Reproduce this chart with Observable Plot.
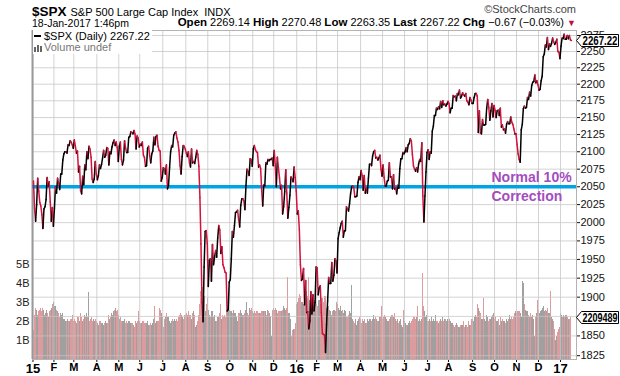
<!DOCTYPE html>
<html><head><meta charset="utf-8">
<script src="https://cdn.jsdelivr.net/npm/d3@7"></script>
<script src="https://cdn.jsdelivr.net/npm/@observablehq/plot@0.6"></script>
<style>
body{margin:0;background:#fff;font-family:"Liberation Sans",Arial,sans-serif;}
#wrap{position:relative;width:620px;height:376px;overflow:hidden;background:#fff;}
.abs{position:absolute;white-space:nowrap;}
#volChart,#priceChart{position:absolute;left:0;top:30px;}
#legend{left:33px;top:30px;background:#fff;font-size:11px;line-height:11px;padding:1px 2px 1px 1px;color:#000;}
.lbl{font-weight:bold;font-size:11.5px;}
</style></head><body><div id="wrap">
<div class="abs" style="left:32px;top:2px;" id="title"></div>
<div class="abs" style="right:44px;top:3px;font-size:11px;color:#444;">©StockCharts.com</div>
<div class="abs" style="left:32px;top:17px;font-size:10.5px;" id="stamp"></div>
<div class="abs" style="right:44px;top:16px;font-size:11px;" id="quote"></div>
<div id="volChart"></div>
<div id="priceChart"></div>
<div class="abs" id="legend"></div>
</div>
<script>
// ---------- data ----------
const symbol = "$SPX";
const indexName = "S&P 500 Large Cap Index";
const exchange = "INDX";
const stamp = "18-Jan-2017 1:46pm";
const quoteOpen = 2269.14, quoteHigh = 2270.48, quoteLow = 2263.35, quoteLast = 2267.22;
const quoteChg = -0.67, quoteChgPct = -0.03;
const lastVolume = 2209489; // thousands
const prevClose2014 = 2058.9;
const correctionLevel = 2050;
const correctionText = ["Normal 10%", "Correction"];

const daysPerMonth = [20,19,22,21,20,22,22,21,21,22,20,22, 19,20,22,21,21,22,20,23,21,21,21,21, 11];
const monthLabels = ["15","F","M","A","M","J","J","A","S","O","N","D","16","F","M","A","M","J","J","A","S","O","N","D","17"];
const priceTicks = [1825,1850,1875,1900,1925,1950,1975,2000,2025,2050,2075,2100,2125,2150,2175,2200,2225,2250,2275];
const volumeTicks = [1,2,3,4,5];

const close2015 = [
2058,2020,2002,2025,2062,2044,2028,2023,2011,1992,2019,2022,2032,2063,2051,2057,2029,2002,2021,1995,
2020,2050,2041,2062,2055,2046,2068,2068,2088,2097,2100,2100,2098,2110,2109,2116,2114,2110,2105,
2117,2108,2098,2101,2071,2079,2044,2040,2065,2053,2081,2074,2100,2090,2108,2104,2092,2061,2056,2061,2086,2068,
2060,2066,2081,2076,2082,2091,2102,2092,2095,2106,2105,2081,2100,2097,2107,2113,2117,2109,2114,2106,2086,
2108,2114,2089,2081,2088,2116,2105,2099,2099,2121,2122,2129,2128,2126,2131,2126,2104,2123,2120,2107,
2111,2109,2114,2095,2092,2079,2080,2105,2108,2094,2084,2097,2101,2121,2110,2122,2124,2108,2102,2101,2058,2063,
2077,2076,2068,2081,2047,2052,2077,2100,2109,2107,2124,2127,2129,2120,2114,2102,2080,2068,2093,2109,2108,2104,
2098,2093,2100,2084,2078,2104,2084,2086,2083,2092,2102,2096,2079,2035,1971,1893,1868,1940,1988,1989,1972,
1914,1949,1951,1921,1970,1943,1953,1962,1953,1979,1996,1990,1958,1967,1943,1939,1933,1932,1882,1884,1920,
1923,1951,1988,1980,1996,2014,2015,2017,2004,1994,2024,2033,2033,2030,2018,2052,2075,2072,2066,2090,2089,2079,
2104,2109,2103,2100,2099,2078,2081,2076,2045,2023,2053,2051,2084,2082,2089,2087,2089,2089,2091,2080,
2102,2080,2050,2092,2077,2063,2047,2052,2012,2022,2043,2074,2041,2006,2021,2038,2064,2061,2057,2078,2063,2044];
const close2016 = [
2012,2016,1990,1943,1922,1924,1938,1890,1922,1880,1881,1859,1869,1907,1878,1903,1882,1893,1940,
1939,1903,1912,1915,1880,1853,1852,1851,1829,1865,1895,1926,1918,1918,1946,1921,1929,1951,1948,1932,
1978,1986,1993,1999,2002,1980,1989,1989,2022,2019,2016,2027,2041,2050,2051,2049,2036,2036,2037,2056,2064,2060,
2073,2066,2045,2066,2041,2048,2041,2062,2082,2082,2080,2094,2100,2102,2091,2092,2088,2091,2095,2075,2065,
2081,2063,2051,2051,2058,2059,2084,2064,2064,2047,2067,2047,2048,2040,2052,2048,2076,2090,2090,2099,2097,
2100,2106,2100,2110,2112,2119,2116,2096,2080,2075,2072,2077,2071,2083,2089,2086,2113,2037,2001,2037,2071,2099,
2103,2089,2100,2098,2130,2137,2153,2153,2164,2162,2166,2163,2174,2165,2175,2169,2170,2167,2170,2174,
2171,2157,2164,2164,2183,2181,2182,2175,2186,2184,2191,2179,2182,2187,2184,2182,2186,2175,2173,2169,2180,2176,2171,
2171,2180,2186,2186,2182,2128,2160,2127,2126,2147,2139,2139,2140,2164,2177,2165,2146,2160,2171,2151,2168,
2161,2150,2160,2161,2153,2164,2136,2139,2132,2133,2127,2140,2144,2141,2141,2151,2143,2140,2133,2126,2126,
2111,2097,2089,2085,2132,2140,2163,2167,2164,2165,2180,2177,2188,2182,2198,2203,2204,2214,2202,2205,2199,
2191,2192,2205,2212,2242,2246,2260,2257,2272,2253,2262,2258,2263,2271,2265,2261,2264,2269,2250,2249,2239];
const close2017 = [2258,2271,2270,2277,2269,2269,2275,2270,2275,2268,2267.22];

const volume2015 = [
1.5,2.3,2.7,2.6,2.3,2.5,2.6,2.7,2.5,2.7,2.6,2.3,2.4,2.6,2.4,2.2,2.5,2.6,2.7,2.9,
3.0,2.8,2.6,2.5,2.4,2.2,2.4,2.3,2.4,2.1,2.1,2.0,2.0,2.1,2.0,2.0,2.1,2.1,2.3,
2.0,2.1,2.0,1.9,2.2,2.0,2.4,2.2,2.0,2.1,2.3,2.2,2.4,2.2,3.5,2.0,2.1,2.2,2.0,2.1,2.0,2.1,
2.0,1.9,1.8,2.0,1.9,1.9,1.8,1.9,2.0,1.9,1.9,2.3,2.1,2.2,2.4,2.3,2.5,2.6,2.7,2.5,2.6,
2.3,2.1,2.2,2.0,2.0,2.1,1.9,2.0,1.9,2.0,2.0,1.9,1.9,1.9,1.8,1.7,2.0,1.9,2.0,2.5,
2.0,1.9,1.9,2.0,2.0,1.9,1.9,2.0,1.8,1.8,1.9,1.8,1.9,2.1,2.8,1.9,2.0,2.0,2.0,2.7,2.6,2.4,
2.2,1.7,2.1,2.2,2.4,2.2,2.0,1.9,2.0,2.1,2.0,2.1,2.0,2.1,2.0,2.2,2.3,2.4,2.3,2.2,2.1,2.3,
2.3,2.4,2.3,2.5,2.3,2.1,2.4,2.5,2.3,1.7,1.8,2.0,2.3,2.9,3.6,4.6,3.8,3.9,3.3,2.5,2.9,
3.2,2.6,2.3,2.2,2.5,2.2,2.3,2.0,2.0,2.2,2.2,2.4,2.9,2.1,2.3,2.2,2.3,2.2,2.5,2.6,2.8,
2.6,2.5,2.5,2.4,2.6,2.4,2.2,2.0,2.4,2.4,2.6,2.4,2.3,2.3,2.4,2.6,3.0,2.4,2.3,2.7,2.6,2.7,
2.5,2.4,2.5,2.4,2.5,2.4,2.4,2.4,2.5,2.5,2.5,2.5,2.5,2.3,2.6,2.5,2.4,2.2,1.2,2.6,
2.7,2.6,2.7,2.6,2.4,2.5,2.5,2.5,2.6,2.8,2.7,2.6,2.7,4.3,2.4,2.4,2.1,1.2,1.5,1.6,1.6,1.9];
const volume2016 = [
2.9,3.0,3.2,3.4,3.3,3.0,2.9,3.3,3.2,3.6,3.3,4.3,3.1,3.3,2.7,2.9,3.0,3.1,3.9,
2.9,2.8,3.1,3.1,2.9,3.2,3.2,3.0,3.3,2.7,2.9,2.8,2.6,2.5,2.3,2.5,2.6,2.6,2.5,3.0,
2.9,2.7,2.6,2.8,2.5,2.6,2.4,2.6,2.5,2.2,2.3,2.5,2.4,3.9,2.1,2.0,1.9,2.1,1.8,2.0,2.1,2.2,
2.1,1.9,2.1,2.0,2.1,1.9,1.9,2.1,2.0,2.1,2.0,2.1,2.3,2.1,2.2,2.1,2.0,2.0,2.2,2.2,2.8,
2.1,2.2,2.3,2.2,2.1,2.0,2.0,2.1,2.2,2.3,2.2,2.4,2.1,2.0,2.1,1.9,2.0,2.1,1.8,1.7,2.6,
2.0,1.9,1.8,1.8,1.9,2.0,1.9,2.0,2.1,2.2,2.1,2.2,2.8,2.0,2.1,2.0,2.1,4.5,2.8,2.5,2.2,2.3,
2.0,2.0,2.1,2.0,2.2,2.0,2.1,2.0,2.3,2.0,1.9,2.0,2.1,2.0,2.2,2.0,2.1,2.1,2.0,2.1,
2.0,2.1,2.0,1.9,1.9,1.8,1.7,1.8,1.9,1.8,1.7,1.8,1.8,1.8,2.0,1.7,1.8,1.8,1.7,2.0,1.8,1.8,2.1,
2.1,2.0,2.2,2.3,2.2,2.9,2.7,2.5,2.4,2.1,3.2,2.1,2.0,2.3,2.2,2.0,2.1,2.1,2.2,2.3,2.4,
2.1,2.2,2.0,2.0,2.1,1.8,2.2,2.0,2.1,2.0,1.9,2.1,2.0,2.1,2.3,2.1,2.2,2.1,2.2,2.4,2.5,
2.4,2.5,2.5,2.5,2.4,2.2,4.1,4.0,2.9,2.6,2.5,2.3,2.2,2.4,2.2,2.3,2.1,1.2,2.2,2.4,3.1,
2.6,2.4,2.5,2.6,2.7,2.8,2.5,2.6,2.5,2.7,2.4,3.6,2.2,2.1,2.0,1.6,1.0,1.2,1.4,1.6,1.7];
const volume2017 = [2.4,2.3,2.2,2.3,2.2,2.3,2.3,2.2,2.1,2.1,2.21];

// ---------- build ----------
const closes = [...close2015, ...close2016, ...close2017];
const volumes = [...volume2015, ...volume2016, ...volume2017];
const rows = closes.map((c, i) => ({i, close: c, prev: i ? closes[i - 1] : prevClose2014, vol: volumes[i]}));
const monthStarts = [];
daysPerMonth.reduce((acc, n) => { monthStarts.push(acc); return acc + n; }, 0);
const tickPos = monthStarts.map(s => s - 0.5);
const tickLabel = new Map(tickPos.map((p, k) => [p, monthLabels[k]]));

const upColor = "#000000", downColor = "#d3123d";
const volUp = "#a0a0a0", volDown = "#dd9b9d";
const xDomain = [-0.96, 518.8];
const font = '"Liberation Sans", Arial, sans-serif';
const common = {width: 620, height: 346, marginTop: 0, marginBottom: 17, marginLeft: 32, marginRight: 44};

// header
document.getElementById("title").innerHTML =
  `<span style="font-size:13.5px;font-weight:bold">${symbol}</span><span style="font-size:11px;margin-left:4px">${indexName}&nbsp; ${exchange}</span>`;
document.getElementById("stamp").textContent = stamp;
const f2 = d3.format(".2f");
document.getElementById("quote").innerHTML =
  `<span class="lbl">Open</span> ${f2(quoteOpen)} <span class="lbl">High</span> ${f2(quoteHigh)} ` +
  `<span class="lbl">Low</span> ${f2(quoteLow)} <span class="lbl">Last</span> ${f2(quoteLast)} ` +
  `<span class="lbl">Chg</span> ${f2(quoteChg)} (${f2(quoteChgPct)}%) <span style="color:#c0103a;font-size:9px">▼</span>`;

// volume layer
const volPlot = Plot.plot({
  ...common,
  style: {background: "transparent", fontFamily: font, fontSize: "11px", color: "#222"},
  x: {domain: xDomain, axis: null},
  y: {domain: [0, 17.3], axis: "left", ticks: volumeTicks, tickFormat: d => d + "B", tickSize: 0, tickPadding: 3, label: null},
  color: {type: "identity"},
  marks: [
    Plot.rectY(rows, {x1: d => d.i - 0.5, x2: d => d.i + 0.5, y: "vol", fill: d => d.close >= d.prev ? volUp : volDown, shapeRendering: "crispEdges"})
  ]
});
document.getElementById("volChart").appendChild(volPlot);

// price layer
const pricePlot = Plot.plot({
  ...common,
  style: {background: "transparent", fontFamily: font, fontSize: "11px", color: "#111"},
  x: {domain: xDomain, axis: "bottom", ticks: tickPos, tickFormat: d => tickLabel.get(d), tickSize: 3, tickPadding: 1, label: null},
  y: {type: "log", domain: [1820.2, 2282.8], axis: "right", ticks: priceTicks, tickFormat: d => String(d), tickSize: 3, tickPadding: 1, label: null},
  color: {type: "identity"},
  marks: [
    Plot.ruleY(priceTicks, {stroke: "#c4c4c4", strokeOpacity: 0.75}),
    Plot.ruleX(tickPos, {stroke: "#c4c4c4", strokeOpacity: 0.75}),
    Plot.frame({stroke: "#b3b3b3"}),
    Plot.ruleX([xDomain[0]], {stroke: "#999", strokeWidth: 2}),
    Plot.ruleY([correctionLevel], {stroke: "#00a3e4", strokeWidth: 3.5}),
    Plot.link(rows.slice(1), {x1: d => d.i - 1, y1: "prev", x2: "i", y2: "close",
      stroke: d => d.close >= d.prev ? upColor : downColor, strokeWidth: 1.5, strokeLinecap: "round"}),
    Plot.text([correctionLevel], {y: d => d, text: () => correctionText[0], frameAnchor: "right", dx: -85, dy: -9,
      textAnchor: "start", fill: "#a34dbf", fontWeight: "bold", fontSize: 14}),
    Plot.text([correctionLevel], {y: d => d, text: () => correctionText[1], frameAnchor: "right", dx: -85, dy: 10,
      textAnchor: "start", fill: "#a34dbf", fontWeight: "bold", fontSize: 14})
  ]
});
document.getElementById("priceChart").appendChild(pricePlot);

// x-axis label styling
pricePlot.querySelectorAll("g[aria-label='x-axis tick label'] text, g[aria-label='x-axis'] text").forEach(t => {
  t.setAttribute("font-weight", "bold");
  t.setAttribute("font-size", /^\d\d$/.test(t.textContent) ? "13" : "11");
  t.setAttribute("fill", "#000");
});

// legend
const last = closes[closes.length - 1];
document.getElementById("legend").innerHTML =
  `<div><span style="display:inline-block;width:7px;height:2px;background:#000;vertical-align:3px;margin-right:3px"></span>${symbol} (Daily) ${f2(last)}</div>` +
  `<div style="color:#777;margin-top:0px"><svg width="9" height="8" style="vertical-align:-1px;margin-right:1px"><rect x="0" y="3" width="2" height="5" fill="#666"/><rect x="3" y="1" width="2" height="7" fill="#666"/><rect x="6" y="2" width="2" height="6" fill="#666"/></svg>Volume undef</div>`;

// value boxes on the right axis
function valueBox(text, pageY) {
  const w = 43, h = 13;
  const div = document.createElement("div");
  div.className = "abs";
  div.style.left = "576px";
  div.style.top = (pageY - h / 2) + "px";
  div.innerHTML = `<svg width="${w}" height="${h}"><path d="M0.5,${h/2} L5.5,0.5 H${w-0.5} V${h-0.5} H5.5 Z" fill="#fff" stroke="#000"/>` +
    `<text x="6.5" y="${h/2 + 4}" textLength="35" lengthAdjust="spacingAndGlyphs" font-family='${font}' font-size="12" font-weight="bold">${text}</text></svg>`;
  document.getElementById("wrap").appendChild(div);
}
valueBox(f2(last), 30 + pricePlot.scale("y").apply(last));
valueBox(String(lastVolume), 30 + volPlot.scale("y").apply(lastVolume / 1e6));
</script>
</body></html>
